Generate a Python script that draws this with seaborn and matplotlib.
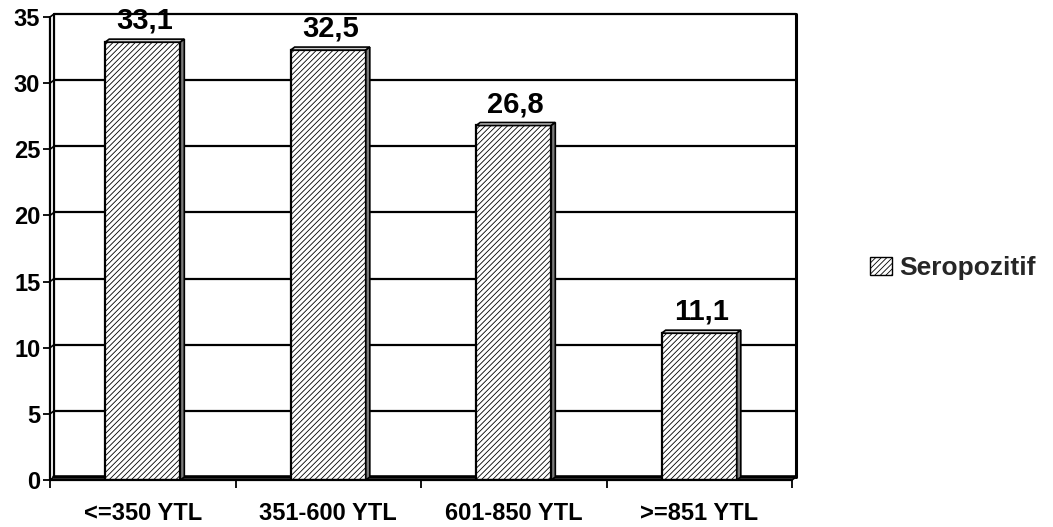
import matplotlib
matplotlib.use("Agg")
import matplotlib.pyplot as plt
from matplotlib.patches import Polygon, Patch
import seaborn as sns
import numpy as np

categories = ["<=350 YTL", "351-600 YTL", "601-850 YTL", ">=851 YTL"]
values = [33.1, 32.5, 26.8, 11.1]
series_name = "Seropozitif"
y_ticks = [0, 5, 10, 15, 20, 25, 30, 35]

sns.set_theme(style="white")
plt.rcParams["font.family"] = ["Liberation Sans", "DejaVu Sans"]
plt.rcParams["font.weight"] = "bold"
plt.rcParams["hatch.color"] = "#555555"
plt.rcParams["hatch.linewidth"] = 0.6

W, H = 1053, 527
fig = plt.figure(figsize=(W / 100, H / 100), dpi=100)
fig.patch.set_facecolor("white")
ax = fig.add_axes([50 / W, 1 - 480 / H, 742 / W, 463 / H])
ax.set_facecolor("none")

sns.barplot(x=categories, y=values, ax=ax, width=0.405, color="white",
            edgecolor="black", linewidth=1.6, hatch="//////", zorder=2,
            saturation=1)

ax.set_xlim(-0.5, 3.5)
ax.set_ylim(0, 35)
for s in ax.spines.values():
    s.set_visible(False)

# depth of the 3-D effect, in data units (4 px right, 3 px up)
fig.canvas.draw()
inv = ax.transData.inverted()
o = ax.transData.transform((0, 0))
ddx, ddy = inv.transform((o[0] + 4, o[1] + 3)) - inv.transform(o)

line_kw = dict(color="black", clip_on=False)
# back wall gridlines and edges
for v in y_ticks:
    lw = 2.6 if v == 0 else 1.6
    ax.plot([-0.5 + ddx, 3.5 + ddx], [v + ddy, v + ddy], lw=lw, zorder=0, **line_kw)
    ax.plot([-0.5, -0.5 + ddx], [v, v + ddy], lw=1.2, zorder=0, **line_kw)
ax.plot([-0.5 + ddx, -0.5 + ddx], [ddy, 35 + ddy], lw=1.6, zorder=0, **line_kw)
ax.plot([3.5 + ddx, 3.5 + ddx], [ddy, 35 + ddy], lw=2.2, zorder=0, **line_kw)
# front axis and floor edge
ax.plot([-0.5, -0.5], [0, 35], lw=1.6, zorder=3, **line_kw)
ax.plot([-0.5, 3.5], [0, 0], lw=1.6, zorder=3, **line_kw)
ax.plot([3.5, 3.5 + ddx], [0, ddy], lw=1.2, zorder=3, **line_kw)

# top and side faces of each bar
for p, v in zip(ax.patches, values):
    x0 = p.get_x()
    x1 = x0 + p.get_width()
    h = p.get_height()
    top = Polygon([(x0, h), (x1, h), (x1 + ddx, h + ddy), (x0 + ddx, h + ddy)],
                  closed=True, facecolor="#cfcfcf", edgecolor="black", lw=1.2,
                  zorder=2.5, clip_on=False)
    side = Polygon([(x1, 0), (x1 + ddx, ddy), (x1 + ddx, h + ddy), (x1, h)],
                   closed=True, facecolor="#7a7a7a", edgecolor="black", lw=1.2,
                   zorder=2.5, clip_on=False)
    ax.add_patch(top)
    ax.add_patch(side)
    ax.annotate(f"{v:.1f}".replace(".", ","), (x0 + (x1 - x0) / 2 + ddx / 2, h + ddy),
                xytext=(0, 3), textcoords="offset points", ha="center", va="bottom",
                fontsize=21, fontweight="bold", color="black", zorder=4,
                annotation_clip=False)

ax.set_yticks(y_ticks)
ax.set_yticklabels([str(t) for t in y_ticks], fontsize=17, fontweight="bold")
ax.tick_params(axis="y", direction="out", length=5, width=1.3, pad=2,
               left=True, colors="black")
ax.set_xticks(range(len(categories)))
ax.set_xticklabels(categories, fontsize=17, fontweight="bold")
ax.set_xticks(np.arange(-0.5, len(categories)), minor=True)
ax.tick_params(axis="x", which="major", length=0, pad=16, colors="black")
ax.tick_params(axis="x", which="minor", direction="out", length=6, width=1.3,
               bottom=True, colors="black")
ax.set_xlabel("")
ax.set_ylabel("")
ax.grid(False)

handle = Patch(facecolor="white", edgecolor="black", hatch="//////", lw=1.0)
fig.legend([handle], [series_name], loc="center left",
           bbox_to_anchor=(852 / W, 1 - 268 / H), frameon=False,
           prop={"size": 19, "weight": "bold"}, handlelength=0.8,
           handleheight=0.65, handletextpad=0.3, borderpad=0.2)

fig.savefig("out.png", dpi=100)
